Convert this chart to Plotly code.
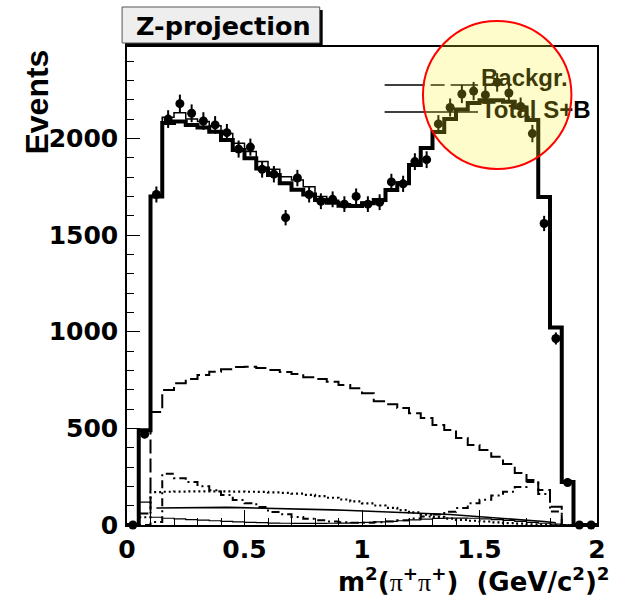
import numpy as np
import plotly.graph_objects as go

# ---------------- data (40 bins of width 0.05 in m^2(pi+pi+)) ----------------
bin_centers = [0.025, 0.075, 0.125, 0.175, 0.225, 0.275, 0.325, 0.375, 0.425, 0.475,
               0.525, 0.575, 0.625, 0.675, 0.725, 0.775, 0.825, 0.875, 0.925, 0.975,
               1.025, 1.075, 1.125, 1.175, 1.225, 1.275, 1.325, 1.375, 1.425, 1.475,
               1.525, 1.575, 1.625, 1.675, 1.725, 1.775, 1.825, 1.875, 1.925, 1.975]
bin_width = 0.05

data_events = [0, 470, 1710, 2100, 2180, 2130, 2090, 2070, 2030, 1945,
               1955, 1840, 1815, 1590, 1795, 1710, 1675, 1685, 1660, 1700,
               1660, 1670, 1775, 1765, 1880, 1890, 2075, 2160, 2230, 2245,
               2225, 2290, 2235, 2165, 2025, 1560, 965, 220, 0, 0]

total_sb = [0, 490, 1700, 2080, 2088, 2069, 2057, 2035, 1992, 1940,
            1897, 1845, 1811, 1768, 1735, 1710, 1681, 1667, 1652, 1650,
            1665, 1681, 1733, 1768, 1862, 1950, 2033, 2100, 2150, 2183,
            2198, 2198, 2190, 2160, 2095, 1697, 1022, 222, 0, 0]

total_alt = [0, 490, 1700, 2110, 2133, 2100, 2088, 2065, 2025, 1975,
             1932, 1880, 1840, 1802, 1785, 1750, 1700, 1680, 1662, 1657,
             1670, 1686, 1738, 1774, 1866, 1954, 2038, 2104, 2154, 2186,
             2200, 2200, 2192, 2162, 2098, 1700, 1025, 222, 0, 0]

backgr = [0, 60, 584, 698, 734, 755, 776, 793, 806, 817,
          819, 812, 802, 791, 781, 765, 755, 741, 724, 708,
          682, 640, 625, 605, 578, 553, 517, 491, 450, 414,
          388, 353, 315, 269, 233, 181, 95, 0, 0, 0]

comp_dashdot = [0, 0, 15, 265, 242, 222, 201, 180, 155, 129,
                113, 93, 67, 55, 42, 32, 24, 18, 14, 12,
                12, 14, 18, 24, 34, 44, 54, 68, 88, 112,
                130, 153, 172, 196, 222, 160, 70, 0, 0, 0]

comp_dotted = [0, 40, 170, 172, 173, 174, 174, 174, 174, 173,
               172, 171, 169, 166, 162, 156, 149, 141, 132, 122,
               112, 101, 89, 77, 65, 53, 42, 33, 27, 22,
               18, 14, 10, 7, 4, 2, 1, 0, 0, 0]

comp_smooth = [None, None, 88, 89, 90, 91, 91, 91, 91, 90,
               89, 88, 87, 85, 84, 82, 80, 78, 76, 74,
               72, 70, 68, 66, 63, 60, 57, 54, 50, 46,
               42, 38, 33, 28, 23, 18, 12, None, None, None]

comp_small = [0, 118, 40, 35, 32, 28, 25, 22, 19, 16,
              14, 12, 10, 9, 8, 8, 8, 9, 10, 12,
              14, 16, 19, 22, 26, 30, 34, 36, 36, 35,
              32, 28, 24, 19, 14, 9, 5, 0, 0, 0]

x_tick_vals = [0, 0.5, 1, 1.5, 2]
x_tick_text = ["0", "0.5", "1", "1.5", "2"]
y_tick_vals = [0, 500, 1000, 1500, 2000]
y_tick_text = ["0", "500", "1000", "1500", "2000"]

legend_labels = ["Backgr.", "Total S+B"]
title_text = "Z-projection"

# ---------------- geometry helpers ----------------
W, H = 618, 607
L, R, T, B = 127, 13, 47, 82
PW, PH = W - L - R, H - T - B
XMAX = 2.0
YMAX = 2473.0


def px_x(px):
    return (px - L) / PW


def px_y(py):
    return (H - B - py) / PH


def dx(px):
    return px_x(px) * XMAX


def dy(py):
    return px_y(py) * YMAX


def step_xy(values):
    edges = [c - bin_width / 2 for c in bin_centers]
    last = bin_centers[-1] + bin_width / 2
    xs = [edges[0]] + edges + [last, last]
    ys = [0] + list(values) + [values[-1], 0]
    return xs, ys


FONT = "Liberation Sans, Arial, Helvetica, sans-serif"
WIDE = "DejaVu Sans, Verdana, sans-serif"
SERIF = "Liberation Serif, Times New Roman, serif"

fig = go.Figure()


def add_hist(values, width, dash="solid", color="black"):
    xs, ys = step_xy(values)
    fig.add_trace(go.Scatter(x=xs, y=ys, mode="lines",
                             line=dict(shape="hv", width=width, color=color, dash=dash),
                             hoverinfo="skip", showlegend=False))


add_hist(comp_small, 1.2)
fig.add_trace(go.Scatter(x=bin_centers, y=comp_smooth, mode="lines",
                         line=dict(width=1.6, color="black"),
                         hoverinfo="skip", showlegend=False))
add_hist(comp_dotted, 2.2, dash="2px,3px")
add_hist(comp_dashdot, 2.0, dash="8px,4px,2px,4px")
add_hist(backgr, 2.0, dash="14px,5px")
add_hist(total_alt, 1.5)
add_hist(total_sb, 4.0)

err = np.sqrt(np.array(data_events, dtype=float))
fig.add_trace(go.Scatter(x=bin_centers, y=data_events, mode="markers",
                         marker=dict(size=9, color="black", symbol="circle"),
                         error_y=dict(type="data", array=err, visible=True,
                                      thickness=2, width=0, color="black"),
                         hoverinfo="skip", showlegend=False, cliponaxis=False))

# legend text drawn as trace text (so the highlight circle covers it)
fig.add_trace(go.Scatter(x=[dx(487), dx(487)], y=[dy(80), dy(112)],
                         mode="text", text=legend_labels, textposition="middle right",
                         textfont=dict(family=FONT, size=24, color="black", weight="bold"),
                         hoverinfo="skip", showlegend=False, cliponaxis=False))

shapes = []
# legend lines
shapes.append(dict(type="line", xref="paper", yref="paper",
                   x0=px_x(389), x1=px_x(484), y0=px_y(85), y1=px_y(85),
                   line=dict(color="black", width=1.5, dash="40px,6px,14px,6px"), layer="below"))
shapes.append(dict(type="line", xref="paper", yref="paper",
                   x0=px_x(389), x1=px_x(484), y0=px_y(112), y1=px_y(112),
                   line=dict(color="black", width=1.5), layer="below"))
# title box with shadow
shapes.append(dict(type="rect", xref="paper", yref="paper",
                   x0=px_x(125), x1=px_x(326), y0=px_y(46), y1=px_y(10),
                   fillcolor="black", line=dict(width=0), layer="above"))
shapes.append(dict(type="rect", xref="paper", yref="paper",
                   x0=px_x(122), x1=px_x(323), y0=px_y(43), y1=px_y(7),
                   fillcolor="#eeeeee", line=dict(color="#555555", width=1), layer="above"))
# highlight circle
shapes.append(dict(type="circle", xref="paper", yref="paper",
                   x0=px_x(428), x1=px_x(579), y0=px_y(169), y1=px_y(21),
                   fillcolor="rgba(255,242,42,0.24)", line=dict(color="red", width=2),
                   layer="above"))

pi = "<span style='font-family:" + SERIF + ";font-weight:normal'>π</span>"
annotations = [
    dict(text="<b>" + title_text + "</b>", xref="paper", yref="paper",
         x=px_x(225), y=px_y(26), xanchor="center", yanchor="middle", showarrow=False,
         font=dict(family=WIDE, size=25.5, color="black")),
    dict(text="<b>Events</b>", xref="paper", yref="paper",
         x=px_x(35), y=px_y(102), xanchor="center", yanchor="middle", showarrow=False,
         textangle=-90, font=dict(family=FONT, size=32, color="black")),
    dict(text="<b>m<sup>2</sup>(" + pi + "<sup>+</sup>" + pi + "<sup>+</sup>)\u00a0\u00a0(GeV/c<sup>2</sup>)<sup>2</sup></b>",
         xref="paper", yref="paper", x=px_x(620), y=px_y(580),
         xanchor="right", yanchor="middle", showarrow=False,
         font=dict(family=WIDE, size=26, color="black")),
]

fig.update_layout(
    width=W, height=H,
    margin=dict(l=L, r=R, t=T, b=B, pad=0),
    paper_bgcolor="white", plot_bgcolor="white",
    showlegend=False,
    shapes=shapes, annotations=annotations,
    xaxis=dict(range=[0, XMAX], showgrid=False, zeroline=False,
               showline=True, mirror=True, linecolor="black", linewidth=1.5,
               ticks="inside", ticklen=15, tickwidth=1, tickcolor="black",
               tickvals=x_tick_vals, ticktext=x_tick_text,
               tickfont=dict(family=WIDE, size=25, color="black", weight="bold"),
               ticklabelstandoff=1,
               minor=dict(dtick=0.1, tick0=0, ticks="inside", ticklen=7,
                          tickwidth=1, tickcolor="black", showgrid=False)),
    yaxis=dict(range=[0, YMAX], showgrid=False, zeroline=False,
               showline=True, mirror=True, linecolor="black", linewidth=1.5,
               ticks="inside", ticklen=13, tickwidth=1, tickcolor="black",
               tickvals=y_tick_vals, ticktext=y_tick_text,
               tickfont=dict(family=WIDE, size=25, color="black", weight="bold"),
               ticklabelstandoff=2,
               minor=dict(dtick=100, tick0=0, ticks="inside", ticklen=7,
                          tickwidth=1, tickcolor="black", showgrid=False)),
)

fig.write_html("out.html")
